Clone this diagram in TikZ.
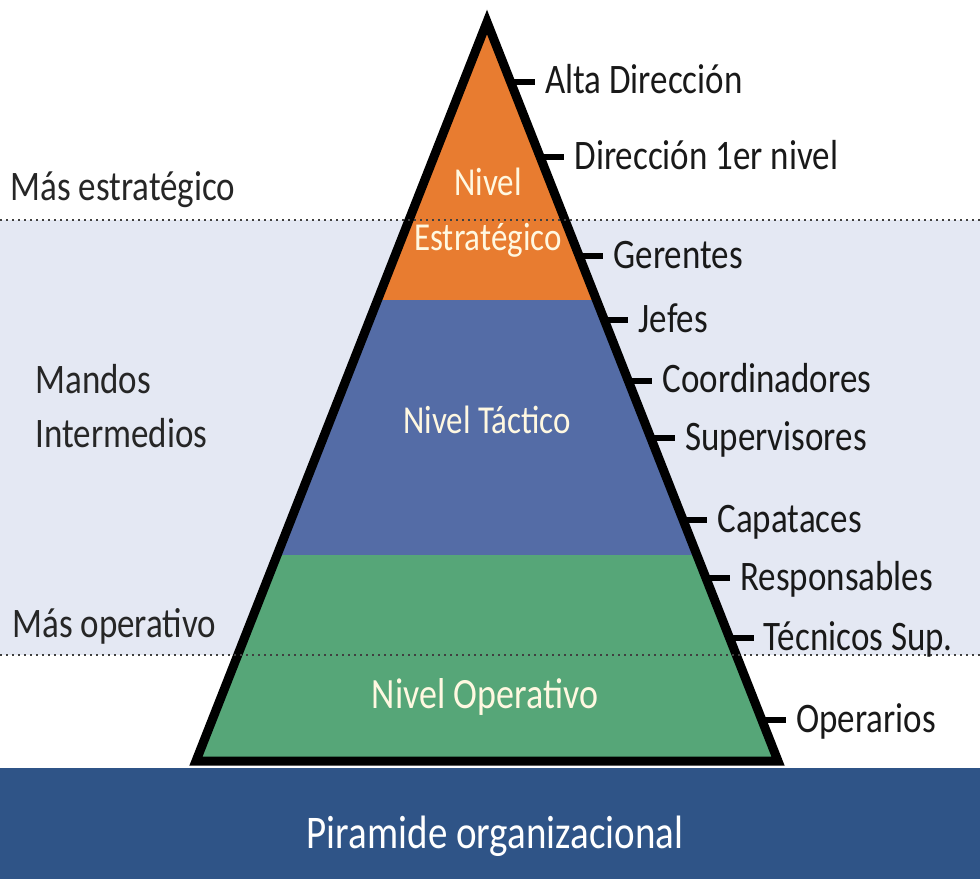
\documentclass[tikz,border=0pt]{standalone}
\usepackage{graphicx}
\usepackage{fontspec}
\setmainfont{Carlito}
\usetikzlibrary{calc,positioning}
\definecolor{orangeniv}{RGB}{232,124,48}
\definecolor{blueniv}{RGB}{84,108,166}
\definecolor{greenniv}{RGB}{86,166,120}
\definecolor{bandbg}{RGB}{228,232,243}
\definecolor{barblue}{RGB}{47,84,135}
\definecolor{textcream}{RGB}{255,248,225}
\newcommand{\tallt}[1]{\scalebox{1}[1.2]{#1}}
\tikzset{
    rank/.style = {anchor=base west, inner sep=0pt, text=black!90,
                 font=\fontsize{17.5}{20}\selectfont},
    side/.style = {anchor=base west, inner sep=0pt, text=black!85, align=left,
                 font=\fontsize{17.5}{27}\selectfont},
    level/.style = {anchor=base, inner sep=0pt, text=textcream, align=center,
                 font=\fontsize{16.5}{27.5}\selectfont},
    tick/.style = {line width=3pt},
}

\begin{document}
\begin{tikzpicture}[x=0.5pt,y=-0.5pt]
\useasboundingbox (0,0) rectangle (980,879);
\fill[white] (0,0) rectangle (980,879);
\fill[bandbg] (0,220) rectangle (980,655);
\coordinate (apex) at (487,22);
\coordinate (bl) at (196,761);
\coordinate (br) at (778,761);
% pyramid levels
\begin{scope}
\clip (apex) -- (bl) -- (br) -- cycle;
\fill[orangeniv] (0,0) rectangle (980,300);
\fill[blueniv] (0,300) rectangle (980,555);
\fill[greenniv] (0,555) rectangle (980,770);
\end{scope}
\fill[barblue] (0,768) rectangle (980,879);
\draw[line width=4.5pt, line join=miter] (apex) -- (bl) -- (br) -- cycle;
\draw[dotted, line width=1pt, black!75] (0,220) -- (980,220);
\draw[dotted, line width=1pt, black!75] (0,655) -- (980,655);
% ranks along the right edge
\foreach \y/\txt [count=\i] in {82/Alta Dirección, 157/Dirección 1er nivel,
    256/Gerentes, 320/Jefes, 381/Coordinadores, 438/Supervisores,
    520/Capataces, 578/Responsables, 638/Técnicos Sup., 720/Operarios} {
  \pgfmathsetmacro\f{(\y-22)/739}
  \coordinate (e\i) at ($(apex)!\f!(br)$);
  \draw[tick] (e\i) -- ++(24,0) coordinate (t\i);
  \node (r\i) [rank] at ($(t\i)+(10,12)$) {\tallt{\txt}};
}
\node (estr) [side] at (10,200) {\tallt{Más estratégico}};
\node (mandos) [side] at (35,447) {\tallt{Mandos}\\\tallt{Intermedios}};
\node (oper) [side] at (12,637) {\tallt{Más operativo}};
\node (nivE) [level] at (488,250) {\tallt{Nivel}\\\tallt{Estratégico}};
\node (nivT) [level] at (487,433) {\tallt{Nivel Táctico}};
\node (nivO) [level, font=\fontsize{18}{20}\selectfont] at (485,708) {\tallt{Nivel Operativo}};
\node (titulo) [anchor=base, inner sep=0pt, text=white,
  font=\fontsize{19.5}{22}\selectfont] at (495,848) {\tallt{Piramide organizacional}};
\end{tikzpicture}
\end{document}
